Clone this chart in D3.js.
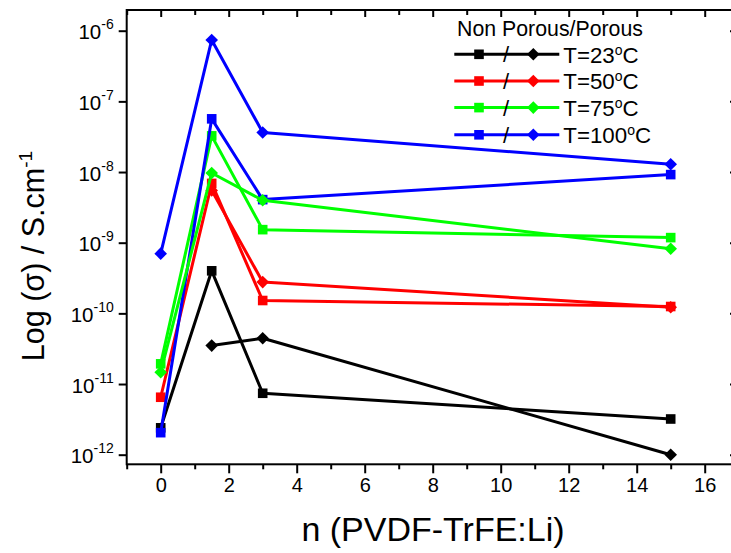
<!DOCTYPE html>
<html><head><meta charset="utf-8">
<script src="https://cdn.jsdelivr.net/npm/d3@7"></script>
<style>
html,body{margin:0;padding:0;background:#fff;}
svg{display:block;font-family:"Liberation Sans",Arial,sans-serif;}
</style></head>
<body><svg id="c" width="731" height="553"></svg>
<script>
// ---- data ----
const nValues = [0, 1.5, 3, 15];
const sq23  = [2.4e-12, 4.0e-10, 7.4e-12, 3.2e-12];
const dia23 = [null,    3.5e-11, 4.45e-11, 1.0e-12];
const sq50  = [6.5e-12, 6.9e-9,  1.52e-10, 1.25e-10];
const dia50 = [null,    5.5e-9,  2.77e-10, 1.22e-10];
const sq75  = [1.93e-11, 3.25e-8, 1.53e-9, 1.18e-9];
const dia75 = [1.47e-11, 9.7e-9,  3.98e-9, 8.2e-10];
const sq100  = [2.05e-12, 5.66e-8, 4.07e-9, 9.2e-9];
const dia100 = [7.0e-10,  7.4e-7,  3.63e-8, 1.29e-8];
const temps = ["23", "50", "75", "100"];
const colors = ["#000000", "#ff0000", "#00ff00", "#0000ff"];
const xTicks = [0, 2, 4, 6, 8, 10, 12, 14, 16];
const yExps = [-12, -11, -10, -9, -8, -7, -6];

const squares = [sq23, sq50, sq75, sq100];
const diamonds = [dia23, dia50, dia75, dia100];

// ---- scales ----
const svg = d3.select("#c");
const L = 126.7, R = 737, T = 10, B = 464.3;
const x = d3.scaleLinear().domain([-1, 16.95]).range([L, R]);
const y = d3.scaleLog().domain([Math.pow(10, -12.136), Math.pow(10, -5.707)]).range([B, T]);

// ---- axes ----
const minorX = d3.range(-1, 17, 1);
svg.append("g").attr("transform", `translate(0,${B})`)
  .call(d3.axisBottom(x).tickValues(minorX.filter(v => v % 2 !== 0)).tickSize(5).tickFormat(""))
  .call(g => g.select(".domain").remove())
  .selectAll("line").attr("stroke-width", 2);
const gx = svg.append("g").attr("transform", `translate(0,${B})`)
  .call(d3.axisBottom(x).tickValues(xTicks).tickSize(9).tickPadding(5).tickFormat(d3.format("d")));
gx.select(".domain").remove();
gx.selectAll("line").attr("stroke-width", 2);
gx.selectAll("text").attr("font-size", 20).attr("fill", "#000")
  .attr("font-family", "Liberation Sans, Arial, sans-serif");

svg.append("g").attr("transform", `translate(0,${T})`)
  .call(d3.axisBottom(x).tickValues(minorX.filter(v => v % 2 === 0)).tickSize(7).tickFormat(""))
  .call(g => g.select(".domain").remove())
  .selectAll("line").attr("stroke-width", 2);
svg.append("g").attr("transform", `translate(0,${T})`)
  .call(d3.axisBottom(x).tickValues(minorX.filter(v => v % 2 !== 0)).tickSize(5).tickFormat(""))
  .call(g => g.select(".domain").remove())
  .selectAll("line").attr("stroke-width", 2);

const yVals = yExps.map(e => Math.pow(10, e));
const gy = svg.append("g").attr("transform", `translate(${L},0)`)
  .call(d3.axisLeft(y).tickValues(yVals).tickSize(8).tickPadding(6).tickFormat(""));
gy.select(".domain").remove();
gy.selectAll("line").attr("stroke-width", 2);
gy.selectAll(".tick").each(function(d) {
  const e = Math.round(Math.log10(d));
  const t = d3.select(this).append("text")
    .attr("x", -13).attr("y", 8).attr("text-anchor", "end").attr("fill", "#000")
    .attr("font-size", 20.5);
  t.append("tspan").text("10");
  t.append("tspan").attr("font-size", 14).attr("dy", -10).text(String(e));
});
svg.append("g").attr("transform", `translate(${R},0)`)
  .call(d3.axisRight(y).tickValues(yVals).tickSize(-7).tickFormat(""))
  .call(g => g.select(".domain").remove())
  .selectAll("line").attr("stroke-width", 2);

svg.append("rect").attr("x", L).attr("y", T).attr("width", R - L).attr("height", B - T)
  .attr("fill", "none").attr("stroke", "#000").attr("stroke-width", 2);

// ---- series ----
const line = d3.line().x(d => x(d[0])).y(d => y(d[1]));
const plot = svg.append("g");
function marker(g, cx, cy, color, shape) {
  if (shape === "sq") {
    g.append("rect").attr("x", cx - 4.8).attr("y", cy - 4.8).attr("width", 9.6).attr("height", 9.6)
      .attr("fill", color);
  } else {
    const r = 6.3;
    g.append("path").attr("d", `M${cx},${cy - r}L${cx + r},${cy}L${cx},${cy + r}L${cx - r},${cy}Z`)
      .attr("fill", color);
  }
}
function drawSeries(vals, color, shape) {
  const pts = nValues.map((n, i) => [n, vals[i]]).filter(p => p[1] != null);
  plot.append("path").attr("d", line(pts))
    .attr("fill", "none").attr("stroke", color).attr("stroke-width", 3)
    .attr("stroke-linejoin", "round");
  pts.forEach(p => marker(plot, x(p[0]), y(p[1]), color, shape));
}
squares.forEach((s, i) => drawSeries(s, colors[i], "sq"));
diamonds.forEach((s, i) => drawSeries(s, colors[i], "dia"));

// ---- legend ----
const lg = svg.append("g");
lg.append("text").attr("x", 550).attr("y", 36).attr("text-anchor", "middle")
  .attr("font-size", 21.3).attr("fill", "#000").text("Non Porous/Porous");
const rowY = [54.3, 81, 107.6, 134.8];
temps.forEach((t, i) => {
  const cy = rowY[i];
  lg.append("line").attr("x1", 454.3).attr("x2", 559.3).attr("y1", cy).attr("y2", cy)
    .attr("stroke", colors[i]).attr("stroke-width", 3);
  marker(lg, 479, cy, colors[i], "sq");
  marker(lg, 533.3, cy, colors[i], "dia");
  lg.append("text").attr("x", 506).attr("y", cy + 8).attr("text-anchor", "middle")
    .attr("font-size", 22).attr("fill", "#000").text("/");
  const tx = lg.append("text").attr("x", 563.3).attr("y", cy + 8.3)
    .attr("font-size", 22.3).attr("fill", "#000");
  tx.append("tspan").text("T=" + t);
  tx.append("tspan").attr("font-size", 14).attr("dy", -8).text("o");
  tx.append("tspan").attr("dy", 8).text("C");
});

// ---- axis titles ----
svg.append("text").attr("x", 433).attr("y", 541).attr("text-anchor", "middle")
  .attr("font-size", 34).attr("fill", "#000").text("n (PVDF-TrFE:Li)");
const yt = svg.append("text").attr("transform", "translate(44,256) rotate(-90)")
  .attr("text-anchor", "middle").attr("font-size", 30.5).attr("fill", "#000");
yt.append("tspan").text("Log (σ) / S.cm");
yt.append("tspan").attr("font-size", 19).attr("dy", -12).text("-1");
</script></body></html>
